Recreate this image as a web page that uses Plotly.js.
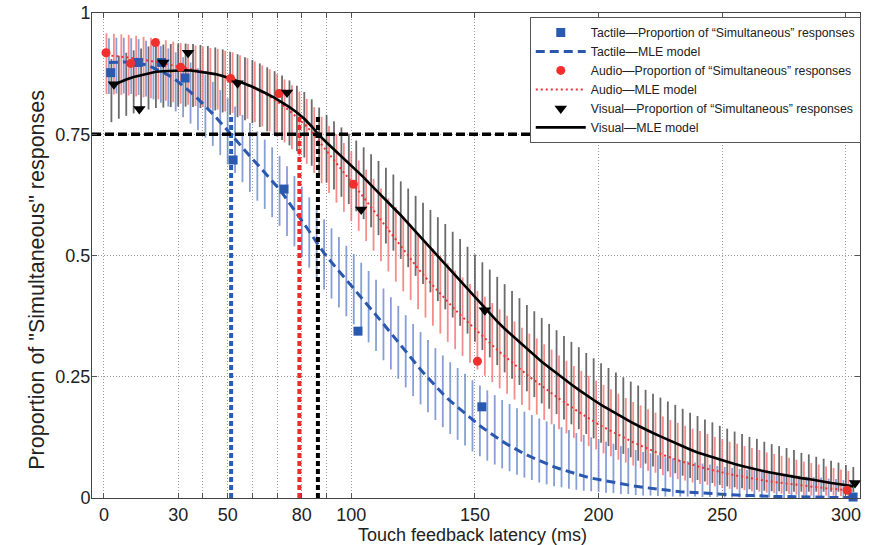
<!DOCTYPE html>
<html>
<head>
<meta charset="utf-8">
<script src="https://cdn.plot.ly/plotly-3.0.1.min.js"></script>
<style>html,body{margin:0;padding:0;background:#fff;}#chart{width:881px;height:545px;}</style>
</head>
<body>
<div id="chart"></div>
<script>
// ---- Observed proportions of "Simultaneous" responses ----
const tactileX = [2.7, 13.9, 23.3, 32.8, 52.2, 72.8, 102.7, 152.8, 302.9];
const tactileY = [0.877, 0.898, 0.898, 0.866, 0.697, 0.637, 0.344, 0.188, 0.002];
const audioX = [0.8, 10.8, 20.8, 31, 51.2, 70.8, 100.8, 151, 300.5];
const audioY = [0.918, 0.896, 0.939, 0.888, 0.865, 0.834, 0.647, 0.282, 0.016];
const visualX = [4, 14.3, 24, 34, 54, 74, 104, 154, 303.7];
const visualY = [0.853, 0.802, 0.898, 0.918, 0.855, 0.836, 0.595, 0.387, 0.031];

// ---- MLE model curves with confidence bars ----
const tactileModelX = [2,5,8,11,14,17,20,23,26,29,32,35,38,41,44,47,50,53,56,59,62,65,68,71,74,77,80,83,86,89,92,95,98,101,104,107,110,113,116,119,122,125,128,131,134,137,140,143,146,149,152,155,158,161,164,167,170,173,176,179,182,185,188,191,194,197,200,203,206,209,212,215,218,221,224,227,230,233,236,239,242,245,248,251,254,257,260,263,266,269,272,275,278,281,284,287,290,293,296,299,302];
const tactileModelY = [0.898,0.899,0.899,0.898,0.896,0.893,0.887,0.880,0.872,0.862,0.850,0.837,0.823,0.808,0.792,0.775,0.757,0.740,0.723,0.705,0.688,0.671,0.654,0.636,0.615,0.594,0.572,0.550,0.527,0.505,0.486,0.468,0.450,0.433,0.414,0.396,0.378,0.359,0.340,0.321,0.302,0.283,0.265,0.248,0.231,0.215,0.200,0.187,0.174,0.161,0.149,0.138,0.127,0.117,0.108,0.099,0.091,0.084,0.077,0.070,0.064,0.059,0.054,0.049,0.045,0.041,0.038,0.035,0.032,0.029,0.027,0.024,0.022,0.020,0.018,0.016,0.015,0.013,0.012,0.011,0.010,0.009,0.008,0.007,0.006,0.006,0.005,0.005,0.004,0.004,0.003,0.003,0.003,0.002,0.002,0.002,0.002,0.001,0.001,0.001,0.001];
const tactileUpper = [0.05,0.05,0.05,0.05,0.05,0.05,0.05,0.052,0.055,0.057,0.059,0.061,0.063,0.065,0.066,0.066,0.067,0.067,0.067,0.068,0.068,0.068,0.069,0.069,0.069,0.07,0.07,0.07,0.07,0.07,0.07,0.07,0.07,0.07,0.071,0.072,0.072,0.073,0.074,0.075,0.075,0.076,0.077,0.078,0.078,0.079,0.08,0.081,0.082,0.082,0.083,0.084,0.085,0.085,0.086,0.086,0.087,0.087,0.087,0.088,0.088,0.087,0.086,0.085,0.085,0.084,0.083,0.081,0.08,0.078,0.076,0.075,0.073,0.072,0.07,0.068,0.067,0.065,0.064,0.062,0.061,0.06,0.058,0.057,0.056,0.054,0.053,0.052,0.05,0.049,0.048,0.046,0.045,0.044,0.042,0.041,0.04,0.039,0.038,0.036,0.036];
const tactileLower = [0.065,0.065,0.065,0.065,0.065,0.065,0.065,0.065,0.065,0.065,0.065,0.065,0.065,0.065,0.066,0.068,0.069,0.07,0.072,0.074,0.075,0.075,0.075,0.075,0.075,0.075,0.075,0.075,0.075,0.075,0.075,0.075,0.075,0.075,0.075,0.075,0.075,0.075,0.075,0.075,0.074,0.073,0.072,0.071,0.07,0.069,0.068,0.067,0.066,0.065,0.063,0.061,0.058,0.056,0.053,0.051,0.049,0.047,0.045,0.042,0.04,0.037,0.035,0.032,0.03,0.027,0.025,0.024,0.022,0.021,0.019,0.018,0.017,0.015,0.014,0.013,0.012,0.01,0.009,0.008,0.008,0.007,0.006,0.006,0.005,0.005,0.004,0.004,0.004,0.003,0.003,0.003,0.002,0.002,0.002,0.002,0.001,0.001,0.001,0.001,0.001];

const audioModelX = [1,4,7,10,13,16,19,22,25,28,31,34,37,40,43,46,49,52,55,58,61,64,67,70,73,76,79,82,85,88,91,94,97,100,103,106,109,112,115,118,121,124,127,130,133,136,139,142,145,148,151,154,157,160,163,166,169,172,175,178,181,184,187,190,193,196,199,202,205,208,211,214,217,220,223,226,229,232,235,238,241,244,247,250,253,256,259,262,265,268,271,274,277,280,283,286,289,292,295,298,301];
const audioModelY = [0.913,0.912,0.910,0.908,0.906,0.903,0.901,0.898,0.895,0.891,0.888,0.885,0.882,0.879,0.876,0.873,0.869,0.865,0.859,0.852,0.845,0.837,0.828,0.818,0.807,0.794,0.781,0.766,0.748,0.728,0.709,0.690,0.671,0.653,0.633,0.613,0.593,0.572,0.551,0.531,0.511,0.492,0.473,0.455,0.438,0.421,0.404,0.388,0.373,0.358,0.343,0.329,0.315,0.301,0.288,0.275,0.262,0.250,0.239,0.227,0.216,0.205,0.194,0.184,0.174,0.164,0.155,0.146,0.138,0.130,0.122,0.115,0.108,0.101,0.095,0.089,0.083,0.078,0.073,0.068,0.064,0.060,0.056,0.052,0.049,0.046,0.043,0.040,0.038,0.035,0.033,0.031,0.029,0.027,0.025,0.023,0.022,0.020,0.019,0.017,0.016];
const audioUpper = [0.045,0.045,0.046,0.047,0.047,0.048,0.048,0.049,0.049,0.05,0.05,0.051,0.051,0.052,0.052,0.053,0.053,0.054,0.054,0.055,0.055,0.055,0.056,0.056,0.056,0.057,0.057,0.057,0.058,0.058,0.058,0.06,0.061,0.062,0.063,0.064,0.065,0.066,0.067,0.069,0.07,0.072,0.073,0.075,0.076,0.078,0.08,0.081,0.082,0.083,0.084,0.086,0.087,0.088,0.088,0.089,0.089,0.089,0.09,0.09,0.09,0.089,0.089,0.088,0.088,0.088,0.087,0.087,0.086,0.085,0.084,0.083,0.083,0.082,0.081,0.079,0.078,0.077,0.076,0.075,0.074,0.072,0.07,0.069,0.067,0.066,0.064,0.063,0.061,0.059,0.058,0.056,0.054,0.052,0.05,0.049,0.047,0.045,0.043,0.042,0.04];
const audioLower = [0.08,0.08,0.079,0.078,0.078,0.077,0.077,0.076,0.076,0.075,0.075,0.074,0.074,0.073,0.073,0.072,0.072,0.071,0.071,0.07,0.07,0.071,0.072,0.073,0.074,0.075,0.076,0.077,0.078,0.079,0.08,0.081,0.081,0.082,0.082,0.083,0.083,0.084,0.084,0.085,0.085,0.084,0.084,0.083,0.083,0.082,0.082,0.081,0.08,0.079,0.078,0.077,0.076,0.075,0.073,0.072,0.07,0.069,0.067,0.066,0.064,0.063,0.061,0.06,0.058,0.057,0.055,0.054,0.052,0.051,0.049,0.048,0.046,0.045,0.043,0.042,0.04,0.039,0.037,0.036,0.035,0.033,0.032,0.031,0.03,0.028,0.027,0.026,0.025,0.024,0.023,0.022,0.021,0.02,0.019,0.018,0.017,0.015,0.014,0.013,0.012];

const visualModelX = [3,6,9,12,15,18,21,24,27,30,33,36,39,42,45,48,51,54,57,60,63,66,69,72,75,78,81,84,87,90,93,96,99,102,105,108,111,114,117,120,123,126,129,132,135,138,141,144,147,150,153,156,159,162,165,168,171,174,177,180,183,186,189,192,195,198,201,204,207,210,213,216,219,222,225,228,231,234,237,240,243,246,249,252,255,258,261,264,267,270,273,276,279,282,285,288,291,294,297,300,303];
const visualModelY = [0.850,0.857,0.863,0.868,0.872,0.876,0.879,0.880,0.881,0.882,0.882,0.881,0.879,0.877,0.874,0.870,0.865,0.860,0.854,0.848,0.841,0.833,0.825,0.816,0.806,0.795,0.782,0.766,0.748,0.733,0.719,0.705,0.691,0.676,0.661,0.645,0.630,0.614,0.599,0.583,0.566,0.549,0.532,0.515,0.498,0.481,0.464,0.447,0.430,0.413,0.396,0.380,0.364,0.349,0.335,0.321,0.307,0.294,0.281,0.269,0.257,0.245,0.234,0.223,0.212,0.202,0.192,0.183,0.174,0.165,0.157,0.149,0.141,0.134,0.127,0.120,0.114,0.107,0.100,0.094,0.089,0.084,0.079,0.074,0.070,0.066,0.062,0.059,0.055,0.052,0.049,0.047,0.044,0.041,0.039,0.036,0.034,0.031,0.029,0.026,0.024];
const visualUpper = [0.055,0.055,0.055,0.055,0.055,0.055,0.055,0.055,0.055,0.055,0.055,0.055,0.055,0.055,0.055,0.055,0.055,0.055,0.055,0.055,0.055,0.055,0.055,0.055,0.055,0.055,0.055,0.056,0.057,0.057,0.058,0.059,0.06,0.061,0.062,0.064,0.065,0.067,0.068,0.07,0.072,0.074,0.077,0.079,0.081,0.084,0.085,0.087,0.088,0.089,0.09,0.091,0.092,0.092,0.092,0.091,0.091,0.091,0.09,0.09,0.089,0.089,0.088,0.088,0.087,0.086,0.086,0.085,0.085,0.084,0.083,0.083,0.082,0.081,0.08,0.079,0.078,0.077,0.076,0.075,0.073,0.072,0.07,0.069,0.067,0.066,0.064,0.063,0.061,0.059,0.058,0.056,0.055,0.052,0.051,0.049,0.047,0.046,0.044,0.042,0.04];
const visualLower = [0.075,0.075,0.075,0.075,0.075,0.075,0.075,0.075,0.075,0.075,0.075,0.075,0.075,0.075,0.075,0.075,0.075,0.075,0.075,0.075,0.076,0.077,0.077,0.078,0.079,0.08,0.08,0.081,0.082,0.083,0.083,0.084,0.085,0.085,0.086,0.087,0.088,0.089,0.089,0.09,0.09,0.091,0.091,0.091,0.092,0.092,0.092,0.092,0.091,0.091,0.091,0.09,0.09,0.09,0.089,0.088,0.087,0.086,0.086,0.085,0.084,0.083,0.082,0.081,0.08,0.079,0.078,0.076,0.075,0.074,0.073,0.072,0.07,0.069,0.067,0.065,0.063,0.061,0.059,0.057,0.055,0.053,0.052,0.05,0.048,0.046,0.044,0.042,0.04,0.038,0.035,0.033,0.031,0.028,0.026,0.023,0.021,0.018,0.016,0.013,0.012];

// ---- 75% thresholds ----
const criterion = 0.75;
const criterionEndX = 200;
const tactileThreshold = 51.4;
const audioThreshold = 79;
const visualThreshold = 86.5;
const thresholdTop = 0.79;

const xTickVals = [0, 30, 40, 50, 60, 70, 80, 90, 100, 150, 200, 250, 300];
const xTickText = ['0', '30', '', '50', '', '', '80', '', '100', '150', '200', '250', '300'];
const yTickVals = [0, 0.25, 0.5, 0.75, 1];
const yTickText = ['0', '0.25', '0.5', '0.75', '1'];

const xTitle = 'Touch feedback latency (ms)';
const yTitle = 'Proportion of "Simultaneous" responses';

const names = {
  tPts: 'Tactile\u2014Proportion of \u201cSimultaneous\u201d responses',
  tMle: 'Tactile\u2014MLE model',
  aPts: 'Audio\u2014Proportion of \u201cSimultaneous\u201d responses',
  aMle: 'Audio\u2014MLE model',
  vPts: 'Visual\u2014Proportion of \u201cSimultaneous\u201d responses',
  vMle: 'Visual\u2014MLE model'
};

const FONT = 'Liberation Sans, Arial, Helvetica, sans-serif';

function bars(x, y, up, lo, color) {
  return {
    x: x, y: y, type: 'scatter', mode: 'markers',
    marker: {size: 1, opacity: 0},
    error_y: {type: 'data', symmetric: false, array: up, arrayminus: lo,
              color: color, thickness: 1.8, width: 0},
    showlegend: false, hoverinfo: 'skip'
  };
}
function vline(x, color) {
  return {x: [x, x], y: [0, thresholdTop], type: 'scatter', mode: 'lines',
          line: {color: color, width: 4, dash: '5px,3px'}, showlegend: false, hoverinfo: 'skip'};
}

const traces = [
  bars(tactileModelX, tactileModelY, tactileUpper, tactileLower, 'rgba(95,125,200,0.75)'),
  bars(audioModelX, audioModelY, audioUpper, audioLower, 'rgba(245,100,100,0.75)'),
  bars(visualModelX, visualModelY, visualUpper, visualLower, 'rgba(70,70,70,0.8)'),
  {x: tactileModelX, y: tactileModelY, type: 'scatter', mode: 'lines', name: names.tMle, legendrank: 2,
   line: {color: '#2a58b0', width: 3, dash: '9px,5px'}},
  {x: audioModelX, y: audioModelY, type: 'scatter', mode: 'lines', name: names.aMle, legendrank: 4,
   line: {color: '#e83434', width: 2, dash: '2px,3px'}},
  {x: visualModelX, y: visualModelY, type: 'scatter', mode: 'lines', name: names.vMle, legendrank: 6,
   line: {color: '#000000', width: 2.6}},
  vline(tactileThreshold, '#2a5cb4'),
  vline(audioThreshold, '#ee2a2a'),
  vline(visualThreshold, '#000000'),
  {x: [-4.85, criterionEndX], y: [criterion, criterion], type: 'scatter', mode: 'lines',
   line: {color: '#000', width: 3.4, dash: '9px,4px'}, showlegend: false, hoverinfo: 'skip'},
  {x: tactileX, y: tactileY, type: 'scatter', mode: 'markers', name: names.tPts, legendrank: 1, cliponaxis: false,
   marker: {symbol: 'square', size: 9, color: '#2a5ab0'}},
  {x: audioX, y: audioY, type: 'scatter', mode: 'markers', name: names.aPts, legendrank: 3, cliponaxis: false,
   marker: {symbol: 'circle', size: 9, color: '#f0302c'}},
  {x: visualX, y: visualY, type: 'scatter', mode: 'markers', name: names.vPts, legendrank: 5, cliponaxis: false,
   marker: {symbol: 'triangle-down', size: 11, color: '#000'}}
];

const axisCommon = {
  showline: true, linecolor: '#444', linewidth: 1, mirror: 'ticks',
  ticks: 'inside', ticklen: 5, tickcolor: '#555', tickwidth: 1,
  showgrid: true, gridcolor: '#9a9a9a', gridwidth: 1, griddash: '1px,2px',
  zeroline: false, tickfont: {family: FONT, size: 18, color: '#222'}
};

const layout = {
  width: 881, height: 545,
  margin: {l: 92, r: 21, t: 13, b: 47},
  paper_bgcolor: '#fff', plot_bgcolor: '#fff',
  font: {family: FONT, color: '#222'},
  xaxis: Object.assign({}, axisCommon, {
    range: [-4.85, 305.7], tickmode: 'array', tickvals: xTickVals, ticktext: xTickText
  }),
  yaxis: Object.assign({}, axisCommon, {
    range: [0, 1], tickmode: 'array', tickvals: yTickVals, ticktext: yTickText,
    ticklabelstandoff: -3
  }),
  annotations: [
    {text: yTitle, textangle: -90, showarrow: false,
     xref: 'paper', yref: 'paper', x: -0.0716, y: 0.45, xanchor: 'center', yanchor: 'middle',
     font: {family: FONT, size: 21.5, color: '#222'}},
    {text: xTitle, showarrow: false,
     xref: 'paper', yref: 'paper', x: 0.495, y: -0.076, xanchor: 'center', yanchor: 'middle',
     font: {family: FONT, size: 18, color: '#222'}}
  ],
  showlegend: true,
  legend: {x: 1.001, y: 0.992, xanchor: 'right', yanchor: 'top', bgcolor: '#fff',
           bordercolor: '#555', borderwidth: 1, font: {family: FONT, size: 12.3, color: '#222'},
           tracegroupgap: 0, itemwidth: 50}
};

Plotly.newPlot('chart', traces, layout, {displayModeBar: false, staticPlot: true});
</script>
</body>
</html>
